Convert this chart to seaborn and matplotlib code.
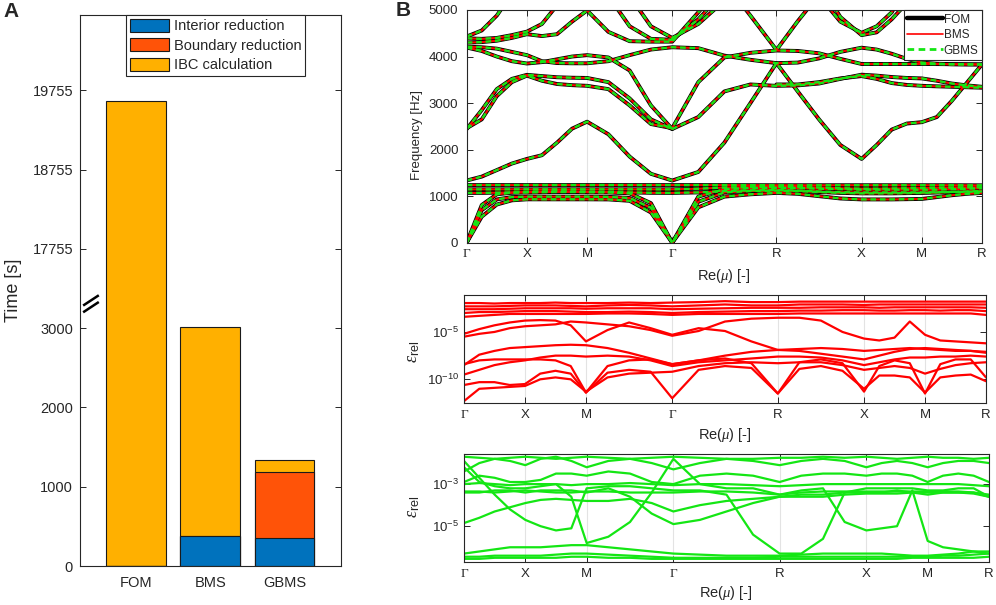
import numpy as np
import pandas as pd
import matplotlib
matplotlib.use('Agg')
import matplotlib.pyplot as plt
import matplotlib.transforms as mtransforms
import seaborn as sns
from matplotlib.lines import Line2D
from matplotlib.patches import Patch
from matplotlib.ticker import LogLocator, NullFormatter, FixedLocator

sns.set_style('white')
plt.rcParams['font.family'] = ['Liberation Sans', 'DejaVu Sans']
plt.rcParams['mathtext.fontset'] = 'custom'
plt.rcParams['mathtext.rm'] = 'Liberation Sans'
plt.rcParams['mathtext.it'] = 'Liberation Serif:italic'
plt.rcParams['mathtext.bf'] = 'Liberation Sans:bold'

nan = np.nan
AX_COL = '#262626'

# ---------------- panel A data ----------------
methods = ['FOM', 'BMS', 'GBMS']
t_interior = np.array([0, 378, 353])
t_boundary = np.array([0, 0, 835])
t_ibc = np.array([19620, 2632, 155])
ytick_values = [0, 1000, 2000, 3000, 17755, 18755, 19755]
axis_shift = 13755          # broken axis: values above the break are shifted down
C_INT, C_BND, C_IBC = '#0072BD', '#FF5308', '#FFB000'

# ---------------- panel B data ----------------
path_labels = ['Γ', 'X', 'M', 'Γ', 'R', 'X', 'M', 'R']
seg_lengths = [0.5, 0.5, 0.7071, 0.8660, 0.7071, 0.5, 0.5]

# band frequencies [Hz] at 4 samples per path segment (29 points)
L1 = [0, 560, 820, 910, 932, 932, 932, 932, 932, 930, 900, 650, 0, 760, 990, 1040, 1070,
      1050, 1000, 950, 930, 930, 930, 935, 940, 980, 1020, 1050, 1070]
L2 = [0, 700, 930, 980, 990, 990, 990, 990, 990, 985, 960, 750, 0, 880, 1080, 1110, 1120,
      1110, 1090, 1070, 1060, 1060, 1060, 1065, 1070, 1080, 1090, 1100, 1110]
L3 = [0, 810, 1040, 1075, 1080, 1085, 1090, 1090, 1085, 1080, 1060, 850, 0, 990, 1150, 1175, 1180,
      1175, 1160, 1150, 1140, 1140, 1140, 1140, 1140, 1140, 1150, 1160, 1170]
F1 = [1238, 1238, 1238, 1238, 1238, 1238, 1238, 1238, 1238, 1238, 1238, 1238, 1238, 1238, 1238, 1236, 1235,
      1235, 1235, 1235, 1235, 1235, 1235, 1235, 1235, 1235, 1235, 1234, 1233]
F2 = [1147, 1147, 1147, 1147, 1147, 1147, 1147, 1147, 1147, 1147, 1147, 1147, 1147, 1160, 1185, 1195, 1200,
      1195, 1185, 1170, 1160, 1160, 1165, 1170, 1175, 1180, 1185, 1190, 1190]
F3 = [1070, 1070, 1075, 1080, 1090, 1100, 1105, 1100, 1095, 1090, 1080, 1072, 1070, 1080, 1110, 1125, 1130,
      1120, 1100, 1085, 1080, 1080, 1080, 1080, 1080, 1085, 1090, 1095, 1100]
B4 = [1336, 1420, 1560, 1700, 1800, 1880, 2150, 2450, 2600, 2330, 1850, 1480, 1336, 1520, 2150, 3000, 3858,
      3250, 2650, 2100, 1800, 2100, 2430, 2560, 2590, 2700, 3050, 3440, 3830]
B5 = [2443, 2850, 3300, 3520, 3607, 3580, 3555, 3545, 3540, 3450, 3100, 2650, 2443, 2700, 3250, 3400, 3370,
      3380, 3420, 3520, 3610, 3590, 3560, 3540, 3530, 3480, 3420, 3380, 3350]
B6 = [2460, 2650, 3150, 3450, 3590, 3480, 3410, 3385, 3371, 3300, 2950, 2550, 2460, 3450, 3980, 4080, 4130,
      4120, 4070, 3950, 3840, 3840, 3840, 3840, 3840, 3838, 3835, 3832, 3830]
B7 = [4193, 4120, 4000, 3900, 3850, 3880, 3940, 4000, 4030, 3980, 3700, 2950, 2443] + [nan] * 16
B8 = [nan] * 16 + [3400, 3400, 3450, 3530, 3580, 3520, 3430, 3390, 3371, 3360, 3350, 3340, 3330]
B9 = [4213, 4200, 4170, 4100, 4030, 3900, 3860, 3855, 3855, 3900, 4030, 4150, 4200, 4180, 4020, 3930, 3858,
      3870, 3960, 4100, 4190, 4150, 4060, 3950, 3870, 3845, 3835, 3832, 3830]
U0 = [4430, 4560, 4880, 5350] + [nan] * 25
U1 = [4392, 4380, 4400, 4460, 4535, 4700, 5100] + [nan] * 22
U2 = [4300, 4310, 4340, 4400, 4480, 4440, 4480, 4750, 4990, 4530, 4330, 4320, 4320, 4950, 5600] + [nan] * 14
U3 = [nan] * 9 + [5300, 4650, 4380, 4360, 4800, 5400] + [nan] * 14
U4 = [nan] * 10 + [5300, 4650, 4400, 4700, 5200] + [nan] * 14
Q1 = [nan] * 14 + [5600, 4880, 4142, 4760, 5330] + [nan] * 10
U5 = [nan] * 18 + [5300, 4750, 4510, 4650, 4950, 5500] + [nan] * 5
U6 = [nan] * 18 + [5600, 4850, 4460, 4520, 4800, 5150] + [nan] * 5

# relative errors, log10 exponents, BMS
R1 = [-1.95, -1.95, -2.0, -1.95, -1.95, -1.95, -1.9, -1.95, -1.95, -1.95, -1.9, -1.95, -1.9, -1.85, -1.75,
      -1.85, -1.85, -1.8, -1.8, -1.8, -1.8, -1.8, -1.8, -1.8, -1.8, -1.8, -1.8, -1.8, -1.8]
R2 = [-2.3, -2.3, -2.3, -2.25, -2.2, -2.2, -2.2, -2.25, -2.3, -2.2, -2.15, -2.2, -2.3, -2.2, -2.1, -2.2,
      -2.2, -2.1, -2.1, -2.1, -2.15, -2.1, -2.1, -2.1, -2.1, -2.1, -2.1, -2.1, -2.1]
R3 = [-2.6, -2.6, -2.6, -2.55, -2.5, -2.5, -2.5, -2.5, -2.55, -2.5, -2.5, -2.5, -2.6, -2.55, -2.5, -2.45,
      -2.45, -2.45, -2.4, -2.4, -2.4, -2.45, -2.4, -2.4, -2.4, -2.4, -2.4, -2.4, -2.45]
R4 = [-3.0, -2.9, -2.9, -2.85, -2.8, -2.8, -2.8, -2.85, -2.9, -2.9, -2.85, -2.9, -3.0, -2.9, -2.85, -2.8,
      -2.8, -2.75, -2.75, -2.7, -2.7, -2.75, -2.75, -2.7, -2.7, -2.75, -2.7, -2.7, -2.8]
R5 = [-3.4, -3.3, -3.2, -3.1, -3.1, -3.1, -3.1, -3.1, -3.1, -3.05, -3.05, -3.1, -3.2, -3.1, -3.1, -3.1,
      -3.1, -3.05, -3.05, -3.05, -3.05, -3.05, -3.05, -3.05, -3.05, -3.05, -3.05, -3.05, -3.2]
R6 = [-5.2, -4.7, -4.3, -4.0, -3.8, -3.75, -3.8, -4.3, -6.0, -4.8, -4.0, -4.6, -5.3, -4.6, -4.9, -6.0,
      -6.9, -6.8, -6.7, -6.8, -7.0, -6.9, -6.8, -6.7, -6.8, -6.9, -7.0, -7.0, -7.1]
R7 = [-5.5, -5.2, -5.0, -4.6, -4.4, -4.3, -4.2, -3.9, -4.0, -4.2, -4.4, -4.8, -5.4, -4.9, -3.9, -3.6,
      -3.5, -3.5, -3.8, -5.0, -5.7, -5.9, -5.6, -3.9, -5.3, -5.9, -6.0, -6.1, -6.2]
R8 = [-8.5, -7.4, -7.0, -6.7, -6.6, -6.5, -6.4, -6.35, -6.4, -6.7, -7.2, -7.8, -8.4, -8.0, -7.5, -7.1,
      -6.9, -7.0, -7.3, -7.6, -7.9, -7.5, -7.1, -6.8, -6.7, -6.8, -6.9, -7.0, -7.2]
R9 = [-8.4, -8.0, -7.9, -7.9, -7.9, -7.9, -8.0, -8.6, -11.4, -8.6, -8.0, -7.9, -8.4, -8.0, -7.8, -8.3,
      -11.5, -8.2, -7.9, -8.3, -11.3, -8.6, -8.0, -8.3, -11.5, -8.4, -7.9, -7.9, -9.8]
R10 = [-10.6, -10.3, -10.3, -10.6, -10.5, -9.4, -9.1, -9.4, -11.4, -9.3, -9.0, -9.2, -12.0, -9.0, -8.6,
       -8.8, -11.5, -8.9, -8.6, -9.1, -11.0, -9.6, -9.6, -9.8, -11.4, -9.8, -9.6, -9.5, -10.2]
R11 = [-12.3, -11.0, -10.9, -10.8, -10.7, -10.0, -9.8, -10.0, -11.3, -9.8, -9.4, -9.3, -9.2, -8.6, -8.3,
       -8.2, -8.3, -8.2, -8.2, -8.5, -9.0, -8.8, -8.6, -8.8, -9.4, -8.9, -8.5, -8.3, -8.2]
R12 = [-9.5, -9.0, -8.5, -8.2, -8.0, -7.7, -7.5, -7.5, -7.6, -7.5, -7.6, -8.0, -8.6, -8.2, -8.0, -7.8,
       -7.6, -7.6, -7.7, -8.0, -8.5, -8.2, -7.9, -7.7, -7.7, -7.6, -7.6, -7.5, -7.6]

# relative errors, log10 exponents, GBMS
G1 = [-1.7, -1.75, -1.8, -1.75, -1.7, -1.75, -1.8, -1.75, -1.7, -1.75, -1.8, -1.75, -1.7, -1.75, -1.8,
      -1.8, -1.75, -1.75, -1.7, -1.75, -1.7, -1.75, -1.8, -1.75, -1.7, -1.75, -1.75, -1.8, -1.75]
G2 = [-2.4, -2.0, -1.8, -1.9, -2.1, -1.8, -1.7, -1.9, -2.2, -1.9, -1.8, -2.0, -2.3, -2.0, -1.8, -1.9,
      -2.1, -1.9, -1.8, -1.9, -2.2, -2.0, -1.9, -2.0, -2.2, -2.0, -1.9, -1.9, -2.0]
G3 = [-2.9, -2.6, -2.7, -2.9, -2.9, -2.8, -2.5, -2.5, -2.6, -2.4, -2.5, -2.9, -3.0, -2.6, -2.5, -2.6,
      -2.9, -2.6, -2.5, -2.5, -2.6, -2.5, -2.5, -2.6, -2.9, -2.6, -2.5, -2.6, -2.9]
G4 = [-3.0, -2.95, -3.0, -3.05, -3.0, -3.0, -3.0, -3.05, -3.0, -3.0, -2.95, -3.0, -3.05, -3.0, -3.0,
      -3.05, -3.1, -3.05, -3.0, -3.0, -3.0, -3.0, -3.0, -3.0, -3.0, -3.0, -3.0, -3.05, -3.1]
G5 = [-3.35, -3.35, -3.4, -3.35, -3.3, -3.35, -3.4, -3.4, -3.35, -3.35, -3.4, -3.4, -3.4, -3.35, -3.35,
      -3.4, -3.5, -3.4, -3.35, -3.35, -3.35, -3.35, -3.35, -3.35, -3.35, -3.35, -3.35, -3.4, -3.5]
G6 = [-4.85, -4.6, -4.3, -4.1, -3.9, -3.75, -3.7, -3.75, -3.8, -3.8, -3.7, -3.9, -4.3, -4.0, -3.8, -3.7,
      -3.6, -3.6, -3.6, -3.5, -3.45, -3.45, -3.45, -3.4, -3.4, -3.4, -3.4, -3.45, -3.6]
G7 = [-1.9, -2.7, -3.5, -4.2, -4.7, -5.0, -5.2, -5.1, -3.2, -3.1, -3.1, -3.2, -3.3, -3.3, -3.5, -5.4,
      -6.3, -6.3, -5.6, -3.4, -3.2, -3.2, -3.2, -3.2, -3.3, -3.3, -3.2, -3.2, -3.6]
G8 = [-2.2, -2.9, -3.1, -3.2, -3.2, -3.1, -3.0, -3.6, -5.8, -5.5, -4.8, -3.4, -1.8, -3.0, -3.2, -3.2,
      -3.5, -3.3, -3.2, -4.8, -5.2, -5.1, -5.0, -3.3, -5.7, -6.0, -6.1, -6.2, -6.3]
G9 = [-3.4, -3.4, -3.3, -3.3, -3.4, -3.3, -3.3, -3.3, -3.4, -3.2, -3.6, -4.4, -4.9, -4.7, -4.3, -3.9,
      -3.6, -3.5, -3.5, -3.4, -3.4, -3.4, -3.3, -3.4, -3.5, -3.4, -3.4, -3.4, -3.6]
G10 = [-6.3, -6.2, -6.1, -6.0, -6.0, -6.0, -5.95, -5.9, -5.9, -6.0, -6.1, -6.2, -6.3, -6.35, -6.4, -6.4,
       -6.4, -6.35, -6.3, -6.3, -6.3, -6.3, -6.35, -6.4, -6.4, -6.35, -6.3, -6.2, -6.2]
G11 = [-6.45, -6.45, -6.4, -6.4, -6.4, -6.4, -6.35, -6.3, -6.3, -6.35, -6.4, -6.45, -6.5, -6.5, -6.5,
       -6.5, -6.45, -6.45, -6.45, -6.45, -6.45, -6.45, -6.45, -6.45, -6.45, -6.4, -6.4, -6.35, -6.3]
G12 = [-6.55, -6.55, -6.5, -6.5, -6.5, -6.5, -6.5, -6.45, -6.45, -6.5, -6.5, -6.55, -6.55, -6.55, -6.55,
       -6.55, -6.55, -6.55, -6.55, -6.55, -6.55, -6.55, -6.55, -6.5, -6.5, -6.5, -6.5, -6.5, -6.45]

RED = '#FF0000'
GREEN = '#14E614'

# ---------------- derived tables ----------------
nodes = np.concatenate([[0.0], np.cumsum(seg_lengths)])
kpos = np.concatenate([np.linspace(a, b, 4, endpoint=False) for a, b in zip(nodes[:-1], nodes[1:])]
                      + [[nodes[-1]]])

bands = {'L1': L1, 'L2': L2, 'L3': L3, 'F1': F1, 'F2': F2, 'F3': F3, 'B4': B4, 'B5': B5, 'B6': B6,
         'B7': B7, 'B8': B8, 'B9': B9, 'U0': U0, 'U1': U1, 'U2': U2, 'U3': U3, 'U4': U4, 'Q1': Q1,
         'U5': U5, 'U6': U6}
df_bands = pd.concat([pd.DataFrame({'k': kpos, 'freq': v, 'band': n}) for n, v in bands.items()],
                     ignore_index=True)

err_bms = {'R1': R1, 'R2': R2, 'R3': R3, 'R4': R4, 'R5': R5, 'R6': R6, 'R7': R7, 'R8': R8,
           'R9': R9, 'R10': R10, 'R11': R11, 'R12': R12}
err_gbms = {'G1': G1, 'G2': G2, 'G3': G3, 'G4': G4, 'G5': G5, 'G6': G6, 'G7': G7, 'G8': G8,
            'G9': G9, 'G10': G10, 'G11': G11, 'G12': G12}
df_bms = pd.concat([pd.DataFrame({'k': kpos, 'err': 10.0 ** np.array(v), 'c': n}) for n, v in err_bms.items()],
                   ignore_index=True)
df_gbms = pd.concat([pd.DataFrame({'k': kpos, 'err': 10.0 ** np.array(v), 'c': n}) for n, v in err_gbms.items()],
                    ignore_index=True)


def style_box(ax, fs=9):
    for s in ax.spines.values():
        s.set_visible(True)
        s.set_color(AX_COL)
        s.set_linewidth(0.8)
    ax.tick_params(direction='in', length=4, width=0.7, colors=AX_COL, labelcolor=AX_COL,
                   labelsize=fs, top=True, right=True, left=True, bottom=True)
    ax.set_xlabel('')
    ax.set_ylabel('')


def path_axis(ax):
    ax.set_xlim(nodes[0], nodes[-1])
    ax.set_xticks(nodes)
    ax.set_xticklabels(path_labels)
    for lab in ax.get_xticklabels():
        if lab.get_text() == 'Γ':
            lab.set_fontfamily(['Liberation Serif', 'DejaVu Serif'])
    ax.xaxis.grid(True, color='#E3E3E3', lw=0.8)
    ax.yaxis.grid(False)
    ax.set_axisbelow(True)
    ax.tick_params(axis='x', pad=4)


fig = plt.figure(figsize=(9.96, 6.05), dpi=100)

# ================= panel A =================
axA = fig.add_axes([80 / 996, 39 / 605, 261 / 996, 551 / 605])
total = t_interior + t_boundary + t_ibc
shown_total = np.where(total > 3500, total - axis_shift, total)
for heights, col in [(shown_total, C_IBC), (t_interior + t_boundary, C_BND), (t_interior, C_INT)]:
    sns.barplot(x=methods, y=heights, color=col, saturation=1, width=0.8, edgecolor='#1a1a1a',
                linewidth=0.8, errorbar=None, ax=axA)
axA.set_xlim(-0.75, 2.76)
axA.set_ylim(0, 6950)
ytick_pos = [v if v <= 3000 else v - axis_shift for v in ytick_values]
axA.set_yticks(ytick_pos)
axA.set_yticklabels([str(v) for v in ytick_values])
style_box(axA, fs=10.5)
axA.tick_params(axis='x', pad=7)
axA.tick_params(axis='y', pad=5)

brk = mtransforms.blended_transform_factory(axA.transAxes, axA.transData)
for dy in (0, 85):
    axA.plot([0.012, 0.072], [3200 + dy, 3330 + dy], transform=brk, color='k', lw=1.8,
             clip_on=False, solid_capstyle='butt')

legA = axA.legend(handles=[Patch(facecolor=C_INT, edgecolor='#1a1a1a', lw=0.8, label='Interior reduction'),
                           Patch(facecolor=C_BND, edgecolor='#1a1a1a', lw=0.8, label='Boundary reduction'),
                           Patch(facecolor=C_IBC, edgecolor='#1a1a1a', lw=0.8, label='IBC calculation')],
                  loc='upper center', bbox_to_anchor=(0.519, 1.0), borderaxespad=0, fontsize=10.5,
                  fancybox=False, edgecolor=AX_COL, handlelength=2.7, handleheight=1.0,
                  handletextpad=0.3, borderpad=0.25, labelspacing=0.35, framealpha=1)
legA.get_frame().set_linewidth(0.8)
fig.text(13 / 996, 1 - 290 / 605, 'Time [s]', rotation=90, ha='center', va='center',
         fontsize=13, color=AX_COL)
fig.text(3 / 996, 1 - 2 / 605, 'A', fontsize=15, weight='bold', va='top', ha='left')

# ================= panel B, dispersion =================
axB1 = fig.add_axes([466.7 / 996, 362.3 / 605, 515.3 / 996, 232.7 / 605])
models = [dict(color='k', lw=2.8),
          dict(color=RED, lw=1.5),
          dict(color=GREEN, lw=1.7, linestyle=(0, (2.4, 1.6)))]
for kw in models:
    sns.lineplot(data=df_bands, x='k', y='freq', units='band', estimator=None, sort=False, ax=axB1, **kw)
axB1.set_ylim(0, 5000)
axB1.set_yticks([0, 1000, 2000, 3000, 4000, 5000])
style_box(axB1, fs=9.5)
path_axis(axB1)
axB1.tick_params(axis='y', pad=6)
legB = axB1.legend(handles=[Line2D([], [], color='k', lw=3.2, label='FOM'),
                            Line2D([], [], color=RED, lw=1.2, label='BMS'),
                            Line2D([], [], color=GREEN, lw=2.0, linestyle=(0, (2.4, 1.6)), label='GBMS')],
                   loc='upper right', borderaxespad=0, fontsize=8.5, fancybox=False, edgecolor=AX_COL,
                   handlelength=3.0, handletextpad=0.1, borderpad=0.3, labelspacing=0.3, framealpha=1)
legB.get_frame().set_linewidth(0.8)
fig.text(417 / 996, 1 - 135 / 605, 'Frequency [Hz]', rotation=90, ha='center', va='center',
         fontsize=9.5, color=AX_COL)
fig.text(724 / 996, 1 - 276 / 605, r'Re($\mu$) [-]', ha='center', va='center', fontsize=10.5, color=AX_COL)
fig.text(396 / 996, 1 - 1 / 605, 'B', fontsize=15, weight='bold', va='top', ha='left')

# ================= panel B, BMS error =================
axB2 = fig.add_axes([464 / 996, 202 / 605, 522 / 996, 108 / 605])
axB2.set_yscale('log')
sns.lineplot(data=df_bms, x='k', y='err', units='c', estimator=None, sort=False, ax=axB2,
             color=RED, lw=1.6)
axB2.set_ylim(10 ** -12.5, 10 ** -1.1)
axB2.yaxis.set_major_locator(FixedLocator([1e-10, 1e-5]))
axB2.yaxis.set_minor_locator(FixedLocator([]))
style_box(axB2, fs=9.5)
path_axis(axB2)
fig.text(413 / 996, 1 - 352 / 605, r'$\epsilon_{\rm rel}$', rotation=90, ha='center', va='center',
         fontsize=13, color=AX_COL)
fig.text(725 / 996, 1 - 435 / 605, r'Re($\mu$) [-]', ha='center', va='center', fontsize=10.5, color=AX_COL)

# ================= panel B, GBMS error =================
axB3 = fig.add_axes([464 / 996, 43 / 605, 525 / 996, 108 / 605])
axB3.set_yscale('log')
sns.lineplot(data=df_gbms, x='k', y='err', units='c', estimator=None, sort=False, ax=axB3,
             color=GREEN, lw=1.6)
axB3.set_ylim(10 ** -6.7, 10 ** -1.57)
axB3.yaxis.set_major_locator(FixedLocator([1e-5, 1e-3]))
axB3.yaxis.set_minor_locator(LogLocator(base=10, subs=np.arange(2, 10)))
axB3.yaxis.set_minor_formatter(NullFormatter())
style_box(axB3, fs=9.5)
axB3.tick_params(which='minor', direction='in', length=2, width=0.5, colors=AX_COL)
path_axis(axB3)
fig.text(413 / 996, 1 - 507 / 605, r'$\epsilon_{\rm rel}$', rotation=90, ha='center', va='center',
         fontsize=13, color=AX_COL)
fig.text(726 / 996, 1 - 593 / 605, r'Re($\mu$) [-]', ha='center', va='center', fontsize=10.5, color=AX_COL)

fig.savefig('out.png', dpi=100)
